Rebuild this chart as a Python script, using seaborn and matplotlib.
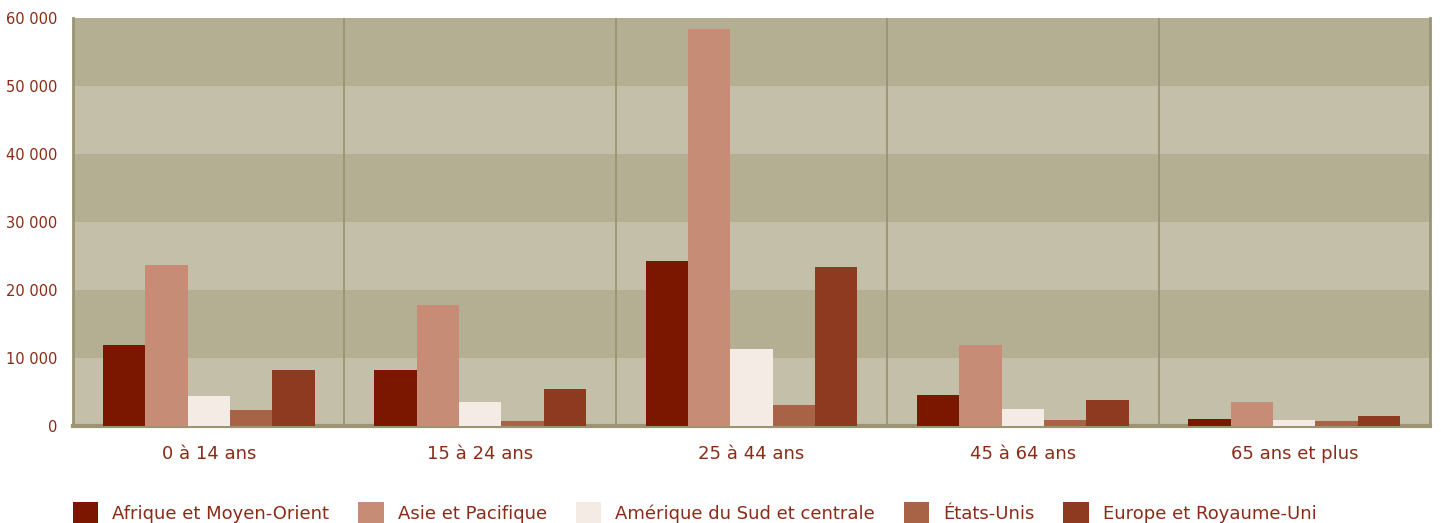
import matplotlib
matplotlib.use("Agg")
import matplotlib.pyplot as plt
from matplotlib.patches import Patch
import seaborn as sns
import pandas as pd

# age groups and regions
groupes = ["0 à 14 ans", "15 à 24 ans", "25 à 44 ans", "45 à 64 ans", "65 ans et plus"]
regions = ["Afrique et Moyen-Orient", "Asie et Pacifique", "Amérique du Sud et centrale",
           "États-Unis", "Europe et Royaume-Uni"]

afrique = [11900, 8300, 24200, 4500, 1000]
asie = [23700, 17800, 58400, 11900, 3500]
amerique = [4400, 3600, 11300, 2500, 850]
etats_unis = [2300, 700, 3050, 850, 700]
europe = [8300, 5400, 23400, 3800, 1450]

couleurs = ["#7b1600", "#c68c75", "#f4ebe5", "#a86346", "#8e3a20"]
txt = "#8a2b17"

rows = []
for reg, vals in zip(regions, [afrique, asie, amerique, etats_unis, europe]):
    for g, v in zip(groupes, vals):
        rows.append({"groupe": g, "region": reg, "valeur": v})
df = pd.DataFrame(rows)

sns.set_style("white")
plt.rcParams['font.family'] = ['DejaVu Sans']

fig = plt.figure(figsize=(14.41, 5.23), dpi=100)
ax = fig.add_axes([73/1441, 1-426/523, (1430-73)/1441, (426-18)/523])

# alternating bands
for i in range(6):
    c = "#c4bfa9" if i % 2 == 0 else "#b4af92"
    ax.axhspan(i*10000, (i+1)*10000, color=c, zorder=0, lw=0)

sns.barplot(data=df, x="groupe", y="valeur", hue="region", palette=couleurs,
            width=0.78, saturation=1, ax=ax, legend=False, zorder=3,
            linewidth=0, edgecolor="none")

ax.set_ylim(0, 60000)
ax.set_xlim(-0.5, 4.5)
ax.set_yticks(range(0, 60001, 10000))
ax.set_yticklabels([f"{v:,}".replace(",", " ") for v in range(0, 60001, 10000)])
ax.set_xticks([0.5, 1.5, 2.5, 3.5], minor=True)
ax.grid(False)
ax.grid(True, which="minor", axis="x", color="#9a9472", lw=1.3, zorder=1)
ax.set_axisbelow(True)
ax.set_xlabel("")
ax.set_ylabel("")
ax.tick_params(axis="both", which="both", length=0)
ax.tick_params(axis="y", labelsize=10.5, labelcolor=txt, pad=11)
ax.tick_params(axis="x", labelsize=13, labelcolor=txt, pad=14)

for s in ["left", "right", "bottom"]:
    ax.spines[s].set_color("#9a9472")
    ax.spines[s].set_linewidth(2)
ax.spines["bottom"].set_linewidth(3)
ax.spines["top"].set_visible(False)

handles = [Patch(facecolor=c, edgecolor="none") for c in couleurs]
fig.legend(handles, regions, loc="center left", bbox_to_anchor=(73/1441, 1-513/523),
           ncol=5, frameon=False, fontsize=13, labelcolor=txt, handlelength=1.4,
           handleheight=1.5, handletextpad=0.78, columnspacing=1.6, borderpad=0,
           borderaxespad=0)

fig.savefig("out.png", dpi=100)
